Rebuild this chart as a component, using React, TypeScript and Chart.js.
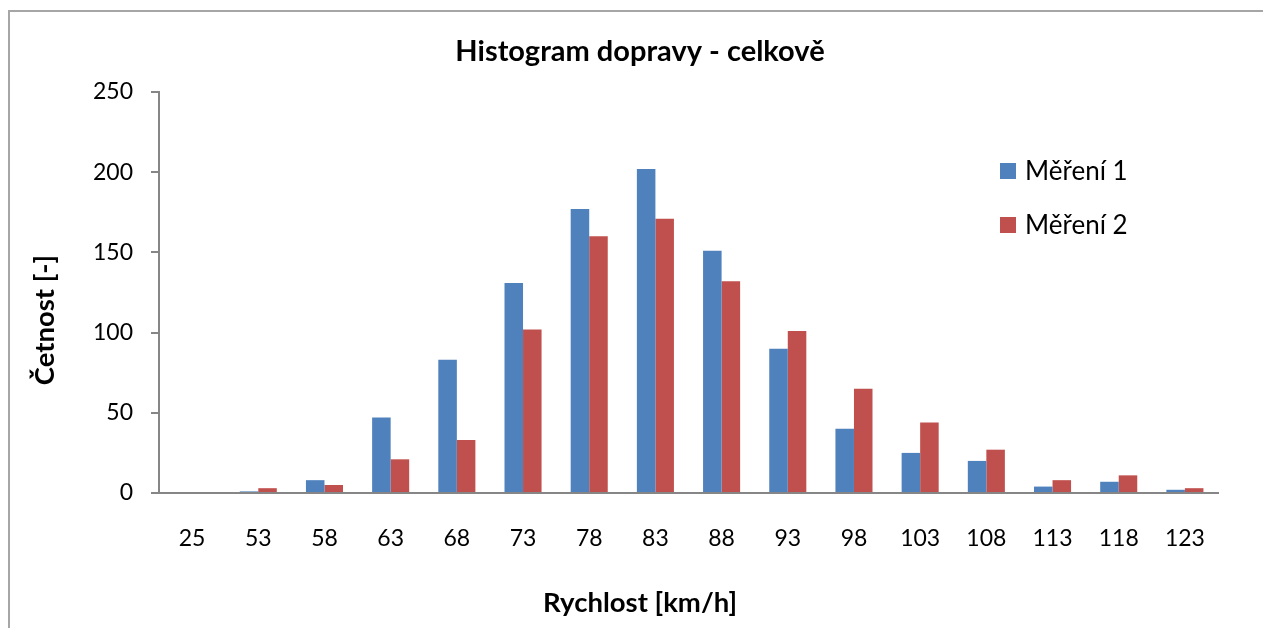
import { useEffect, useRef } from "react";
import { Chart, registerables } from "chart.js";

Chart.register(...registerables);

const categories = ["25", "53", "58", "63", "68", "73", "78", "83", "88", "93", "98", "103", "108", "113", "118", "123"];
const mereni1 = [0, 1, 8, 47, 83, 131, 177, 202, 151, 90, 40, 25, 20, 4, 7, 2];
const mereni2 = [0, 3, 5, 21, 33, 102, 160, 171, 132, 101, 65, 44, 27, 8, 11, 3];
const seriesNames = ["Měření 1", "Měření 2"];
const seriesColors = ["#4F81BD", "#C0504D"];
const chartTitle = "Histogram dopravy - celkově";
const xTitle = "Rychlost [km/h]";
const yTitle = "Četnost [-]";

const FONT = "Lato, 'Open Sans', sans-serif";
const W = 1263;
const H = 628;

const framePlugin = {
  id: "frame",
  beforeDraw(chart: any) {
    const ctx = chart.ctx;
    ctx.save();
    ctx.fillStyle = "#ffffff";
    ctx.fillRect(0, 0, chart.width, chart.height);
    ctx.strokeStyle = "#A6A6A6";
    ctx.lineWidth = 2;
    ctx.lineCap = "butt";
    ctx.beginPath();
    ctx.moveTo(9, chart.height);
    ctx.lineTo(9, 11);
    ctx.lineTo(chart.width + 4, 11);
    ctx.stroke();
    ctx.restore();
  },
};

const textPlugin = {
  id: "texts",
  afterDraw(chart: any) {
    const ctx = chart.ctx;
    ctx.save();
    ctx.fillStyle = "#000";
    ctx.textAlign = "center";
    ctx.textBaseline = "middle";
    ctx.font = `bold 29px ${FONT}`;
    ctx.fillText(chartTitle, 640, 52);
    ctx.font = `bold 27.5px ${FONT}`;
    ctx.fillText(xTitle, 640, 603);
    ctx.save();
    ctx.translate(45, 320);
    ctx.rotate(-Math.PI / 2);
    ctx.fillText(yTitle, 0, 0);
    ctx.restore();

    ctx.font = `26px ${FONT}`;
    ctx.textAlign = "left";
    chart.data.datasets.forEach((ds: any, i: number) => {
      const cy = 171 + i * 54;
      ctx.fillStyle = ds.backgroundColor;
      ctx.fillRect(1000, cy - 8, 16, 16);
      ctx.fillStyle = "#000";
      ctx.fillText(ds.label, 1025, cy + 1);
    });
    ctx.restore();
  },
};

export default function App() {
  const ref = useRef<HTMLCanvasElement | null>(null);
  useEffect(() => {
    if (!ref.current) return;
    const chart = new Chart(ref.current, {
      type: "bar",
      data: {
        labels: categories,
        datasets: [
          { label: seriesNames[0], data: mereni1, backgroundColor: seriesColors[0], categoryPercentage: 0.56, barPercentage: 1 },
          { label: seriesNames[1], data: mereni2, backgroundColor: seriesColors[1], categoryPercentage: 0.56, barPercentage: 1 },
        ],
      },
      options: {
        responsive: false,
        animation: false,
        layout: { padding: { left: 0, right: 45, top: 92, bottom: 0 } },
        plugins: {
          legend: { display: false },
          tooltip: { enabled: false },
          title: { display: false },
        },
        scales: {
          x: {
            grid: { display: false },
            border: { display: true, color: "#868686", width: 2 },
            ticks: { color: "#000", font: { family: FONT, size: 23 }, padding: 24, maxRotation: 0 },
            afterFit: (s: any) => { s.height = 135; },
          },
          y: {
            min: 0,
            max: 250,
            ticks: { stepSize: 50, color: "#000", font: { family: FONT, size: 23 }, padding: 18 },
            grid: { display: true, drawOnChartArea: false, drawTicks: true, tickLength: 8, color: "#868686", lineWidth: 2 },
            border: { display: true, color: "#868686", width: 2 },
            afterFit: (s: any) => { s.width = 159; },
          },
        },
      },
      plugins: [framePlugin, textPlugin],
    });
    return () => chart.destroy();
  }, []);
  return (
    <div style={{ position: "fixed", left: 0, top: 0, width: W, height: H, overflow: "hidden" }}>
      <canvas ref={ref} width={W} height={H} style={{ display: "block" }} />
    </div>
  );
}
